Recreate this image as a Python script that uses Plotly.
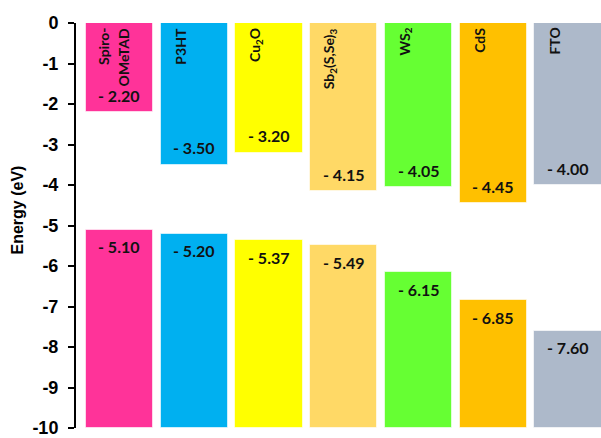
import plotly.graph_objects as go

# Band alignment of the device layers (energies in eV)
materials = ["Spiro-OMeTAD", "P3HT", "Cu<sub>2</sub>O", "Sb<sub>2</sub>(S,Se)<sub>3</sub>",
             "WS<sub>2</sub>", "CdS", "FTO"]
cb_levels = [-2.20, -3.50, -3.20, -4.15, -4.05, -4.45, -4.00]
vb_levels = [-5.10, -5.20, -5.37, -5.49, -6.15, -6.85, -7.60]
colors = ["#FF3399", "#00B0F0", "#FFFF00", "#FFD966", "#66FF33", "#FFC000", "#ADB9CA"]
y_ticks = list(range(0, -11, -1))
y_floor = -10

xs = list(range(len(materials)))

fig = go.Figure()

# Conduction band blocks: from vacuum level (0) down to the CB edge
fig.add_trace(go.Bar(
    x=xs, y=cb_levels, base=0, width=0.9,
    marker=dict(color=colors, line=dict(color="rgba(255,255,255,0.6)", width=1)),
    showlegend=False, hoverinfo="skip",
))

# Valence band blocks: from the bottom of the scale up to the VB edge
fig.add_trace(go.Bar(
    x=xs, y=[v - y_floor for v in vb_levels], base=y_floor, width=0.9,
    marker=dict(color=colors, line=dict(color="rgba(255,255,255,0.6)", width=1)),
    showlegend=False, hoverinfo="skip",
))

name_font = dict(family="Lato", size=14, color="#111111")
value_font = dict(family="Lato", size=16, color="#111111")


def name_label(i, text, dx):
    return dict(x=i, y=0, xref="x", yref="y", text="<b>%s</b>" % text,
                textangle=-90, showarrow=False, xanchor="center", yanchor="top",
                xshift=dx, yshift=-3, font=name_font)


anns = []
for i, (name, cb, vb) in enumerate(zip(materials, cb_levels, vb_levels)):
    if name == "Spiro-OMeTAD":
        # long name wrapped over two rotated lines
        anns.append(name_label(i, "Spiro-", -16))
        anns.append(name_label(i, "OMeTAD", 4))
    else:
        anns.append(name_label(i, name, -14))
    anns.append(dict(x=i, y=cb, xref="x", yref="y", text="<b>- %.2f</b>" % abs(cb),
                     showarrow=False, xanchor="center", yanchor="middle",
                     yshift=17, font=value_font))
    anns.append(dict(x=i, y=vb, xref="x", yref="y", text="<b>- %.2f</b>" % abs(vb),
                     showarrow=False, xanchor="center", yanchor="middle",
                     yshift=-17, font=value_font))

# y-axis title
anns.append(dict(x=0, y=0.537, xref="paper", yref="paper", xshift=-58,
                 text="<b>Energy (eV)</b>", textangle=-90, showarrow=False,
                 xanchor="center", yanchor="middle",
                 font=dict(family="Liberation Sans", size=16, color="black")))

fig.update_layout(
    width=601, height=438,
    margin=dict(l=76, r=0, t=23, b=7),
    paper_bgcolor="white", plot_bgcolor="white",
    barmode="overlay", bargap=0,
    annotations=anns,
    xaxis=dict(range=[-0.58, 6.44], showticklabels=False, ticks="",
               showline=False, showgrid=False, zeroline=False),
    yaxis=dict(range=[-10, 0],
               tickmode="array", tickvals=y_ticks,
               ticktext=["<b>%d</b>" % t for t in y_ticks],
               showline=True, linecolor="black", linewidth=2,
               ticks="outside", ticklen=6, tickwidth=2, tickcolor="black",
               ticklabelstandoff=6, ticklabeloverflow="allow",
               showgrid=False, zeroline=False,
               tickfont=dict(family="Liberation Sans", size=18, color="black")),
)

fig.write_html("out.html")
